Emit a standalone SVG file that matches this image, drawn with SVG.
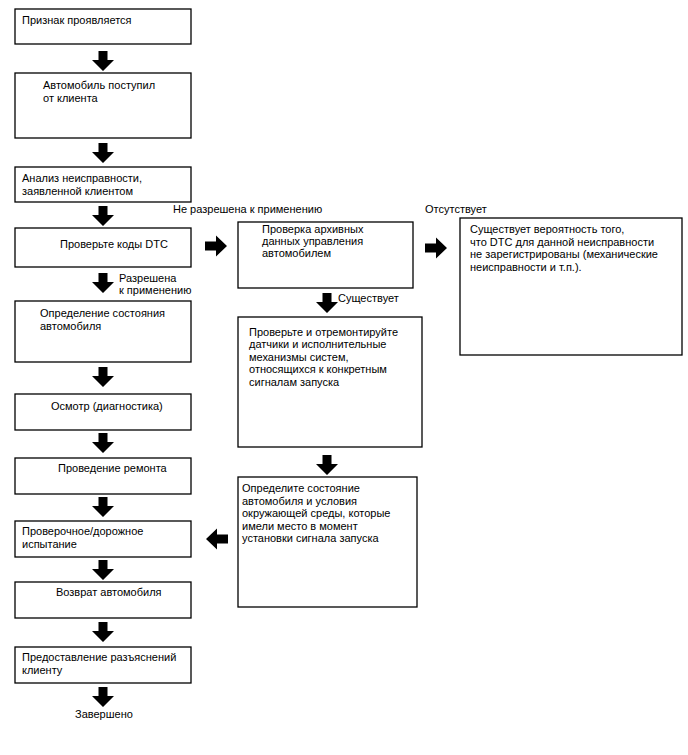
<svg xmlns="http://www.w3.org/2000/svg" width="688" height="755" viewBox="0 0 688 755">
<style>
.box{fill:#fff;stroke:#000;stroke-width:1.3}
.t{font-family:"Liberation Sans",Arial,sans-serif;font-size:11px;fill:#000}
.ar{fill:#000}
</style>
<defs>
<path id="down" d="M-4.5,0 H4.5 V9 H11 L0,20 L-11,9 H-4.5 Z"/>
<path id="right" d="M0,-4.5 H11 V-10.5 L22,0 L11,10.5 V4.5 H0 Z"/>
</defs>
<rect width="688" height="755" fill="#fff"/>
<g id="n1"><rect class="box" x="15" y="9" width="176" height="35"/><text class="t" x="22" y="24">Признак проявляется</text></g>
<g id="n2"><rect class="box" x="15" y="73" width="176" height="65"/><text class="t" x="43" y="89">Автомобиль поступил</text><text class="t" x="43" y="102">от клиента</text></g>
<g id="n3"><rect class="box" x="15" y="167" width="176" height="35"/><text class="t" x="22" y="182">Анализ неисправности,</text><text class="t" x="22" y="195">заявленной клиентом</text></g>
<g id="n4"><rect class="box" x="15" y="228" width="176" height="39"/><text class="t" x="60" y="248">Проверьте коды DTC</text></g>
<g id="n5"><rect class="box" x="15" y="301" width="176" height="61"/><text class="t" x="40" y="317">Определение состояния</text><text class="t" x="40" y="330">автомобиля</text></g>
<g id="n6"><rect class="box" x="15" y="394" width="176" height="36"/><text class="t" x="51" y="410">Осмотр (диагностика)</text></g>
<g id="n7"><rect class="box" x="15" y="458" width="176" height="36"/><text class="t" x="58" y="472">Проведение ремонта</text></g>
<g id="n8"><rect class="box" x="15" y="521" width="176" height="36"/><text class="t" x="22" y="535">Проверочное/дорожное</text><text class="t" x="22" y="548">испытание</text></g>
<g id="n9"><rect class="box" x="15" y="582" width="176" height="36"/><text class="t" x="56" y="596">Возврат автомобиля</text></g>
<g id="n10"><rect class="box" x="15" y="647" width="176" height="36"/><text class="t" x="22" y="661">Предоставление разъяснений</text><text class="t" x="22" y="674">клиенту</text></g>
<g id="n11"><text class="t" x="75" y="718">Завершено</text></g>
<g id="nA"><rect class="box" x="238" y="222" width="175" height="66"/><text class="t" x="262" y="233">Проверка архивных</text><text class="t" x="262" y="245">данных управления</text><text class="t" x="262" y="257">автомобилем</text></g>
<g id="nB"><rect class="box" x="238" y="317" width="184" height="130"/><text class="t" x="249" y="336">Проверьте и отремонтируйте</text><text class="t" x="249" y="348">датчики и исполнительные</text><text class="t" x="249" y="361">механизмы систем,</text><text class="t" x="249" y="373">относящихся к конкретным</text><text class="t" x="249" y="386">сигналам запуска</text></g>
<g id="nC"><rect class="box" x="238" y="477" width="179" height="130"/><text class="t" x="242" y="492">Определите состояние</text><text class="t" x="242" y="505">автомобиля и условия</text><text class="t" x="242" y="517">окружающей среды, которые</text><text class="t" x="242" y="530">имели место в момент</text><text class="t" x="242" y="542">установки сигнала запуска</text></g>
<g id="nD"><rect class="box" x="460" y="218" width="222" height="137"/><text class="t" x="470" y="233">Существует вероятность того,</text><text class="t" x="470" y="246">что DTC для данной неисправности</text><text class="t" x="470" y="258">не зарегистрированы (механические</text><text class="t" x="470" y="271">неисправности и т.п.).</text></g>
<g id="connectors">
<use href="#down" class="ar" x="103" y="51"/>
<use href="#down" class="ar" x="103" y="143"/>
<use href="#down" class="ar" x="103" y="206"/>
<use href="#down" class="ar" x="103" y="273"/>
<use href="#down" class="ar" x="103" y="367"/>
<use href="#down" class="ar" x="103" y="433"/>
<use href="#down" class="ar" x="103" y="497"/>
<use href="#down" class="ar" x="103" y="560"/>
<use href="#down" class="ar" x="103" y="622"/>
<use href="#down" class="ar" x="103" y="687"/>
<use href="#down" class="ar" x="327" y="293"/>
<use href="#down" class="ar" x="327" y="455"/>
<use href="#right" class="ar" x="205" y="246"/>
<use href="#right" class="ar" x="425" y="248"/>
<use href="#right" class="ar" transform="translate(228,539) scale(-1,1)"/>
<text class="t" x="119" y="282">Разрешена</text>
<text class="t" x="119" y="294">к применению</text>
<text class="t" x="173" y="213">Не разрешена к применению</text>
<text class="t" x="338" y="302">Существует</text>
<text class="t" x="425" y="213">Отсутствует</text>
</g>
</svg>
